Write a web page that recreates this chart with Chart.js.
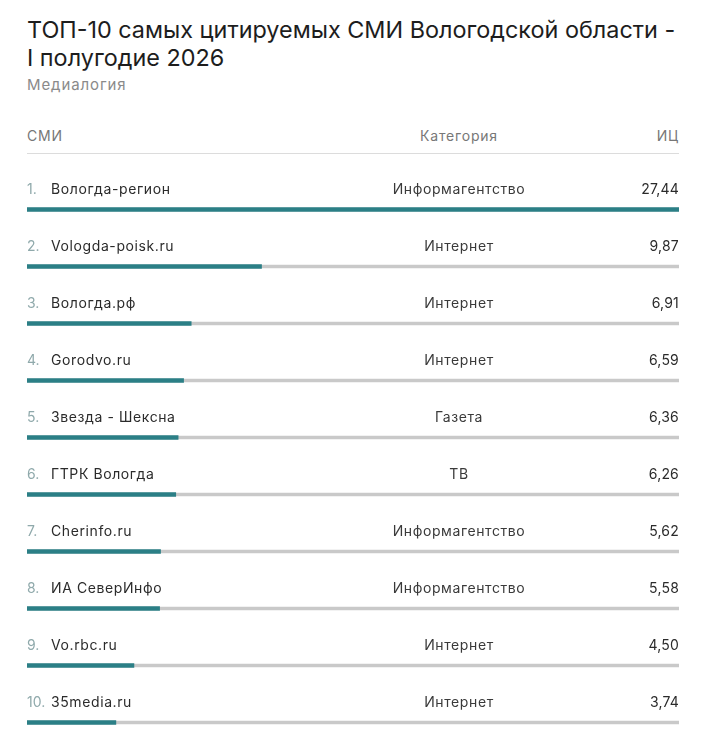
<!DOCTYPE html>
<html lang="ru">
<head>
<meta charset="utf-8">
<title>ТОП-10 СМИ Вологодской области</title>
<script src="https://cdn.jsdelivr.net/npm/chart.js@4/dist/chart.umd.min.js"></script>
<style>
	html,body{margin:0;padding:0;background:#fff;overflow:hidden;}
	body{width:706px;height:740px;position:relative;font-family:Inter,"Noto Sans",sans-serif;color:#222;}
	#titulo{position:absolute;left:27px;top:16px;width:670px;font-size:23.4px;line-height:28px;font-weight:400;color:#1d1d1d;margin:0;}
	#fuente{position:absolute;left:27px;top:75px;font-size:15px;letter-spacing:0.9px;color:#8a8a8a;}
	.cab{position:absolute;top:127px;font-size:14px;letter-spacing:0.8px;color:#777;line-height:18px;}
	#linea{position:absolute;left:27px;top:153px;width:652px;height:1px;background:#dcdcdc;}
	#contenedor{position:absolute;left:27px;top:180.5px;width:652px;height:570px;}
	.fila{position:absolute;left:27px;width:652px;height:18px;line-height:18px;font-size:14px;letter-spacing:0.6px;color:#2b2b2b;}
	.fila .num{position:absolute;left:0;color:#8fa9ab;letter-spacing:0;}
	.fila .smi{position:absolute;left:24px;}
	.fila .cat{position:absolute;left:432px;width:200px;margin-left:-100px;text-align:center;color:#3a3a3a;}
	.fila .ic{position:absolute;right:0;letter-spacing:0.2px;}
</style>
</head>
<body>
<h1 id="titulo">ТОП-10 самых цитируемых СМИ Вологодской области -<br>I полугодие 2026</h1>
<div id="fuente">Медиалогия</div>
<div class="cab" style="left:27px;">СМИ</div>
<div class="cab" style="left:359px;width:200px;text-align:center;">Категория</div>
<div class="cab" style="right:27px;">ИЦ</div>
<div id="linea"></div>
<div id="contenedor"><canvas id="grafica"></canvas></div>
<div id="filas"></div>
<script>
// datos
var smi = ['Вологда-регион','Vologda-poisk.ru','Вологда.рф','Gorodvo.ru','Звезда - Шексна','ГТРК Вологда','Cherinfo.ru','ИА СеверИнфо','Vo.rbc.ru','35media.ru'];
var categorias = ['Информагентство','Интернет','Интернет','Интернет','Газета','ТВ','Информагентство','Информагентство','Интернет','Интернет'];
var ic = [27.44,9.87,6.91,6.59,6.36,6.26,5.62,5.58,4.50,3.74];
var icMax = 27.44;

function formatearIC(n){
	return n.toFixed(2).replace('.',',');
}

var tabla = {
	'iniciar':function(){
		var grafica = tabla.graficar();
		tabla.filas(grafica);
	},
	'graficar':function(){
		var fondo = ic.map(function(){ return icMax; });
		return new Chart(document.getElementById('grafica'), {
			type: 'bar',
			data: {
				labels: smi,
				datasets: [{
					data: ic,
					backgroundColor: '#2b7f86',
					barThickness: 4,
					order: 0
				},{
					data: fondo,
					backgroundColor: '#c9c9c9',
					barThickness: 3,
					order: 1
				}]
			},
			options: {
				indexAxis: 'y',
				responsive: true,
				maintainAspectRatio: false,
				animation: false,
				layout: {padding: 0},
				plugins: {legend: {display: false}, tooltip: {enabled: false}},
				datasets: {bar: {grouped: false}},
				scales: {
					x: {display: false, min: 0, max: icMax},
					y: {display: false}
				}
			}
		});
	},
	'filas':function(grafica){
		var cont = document.getElementById('filas');
		var arriba = document.getElementById('contenedor').offsetTop;
		for (var i = 0; i < smi.length; i++) {
			var y = arriba + grafica.scales.y.getPixelForValue(i);
			var fila = document.createElement('div');
			fila.className = 'fila';
			fila.style.top = (y - 30) + 'px';
			fila.innerHTML = '<span class="num">' + (i+1) + '.</span>' +
				'<span class="smi">' + smi[i] + '</span>' +
				'<span class="cat">' + categorias[i] + '</span>' +
				'<span class="ic">' + formatearIC(ic[i]) + '</span>';
			cont.appendChild(fila);
		}
	}
};

tabla.iniciar();
</script>
</body>
</html>
